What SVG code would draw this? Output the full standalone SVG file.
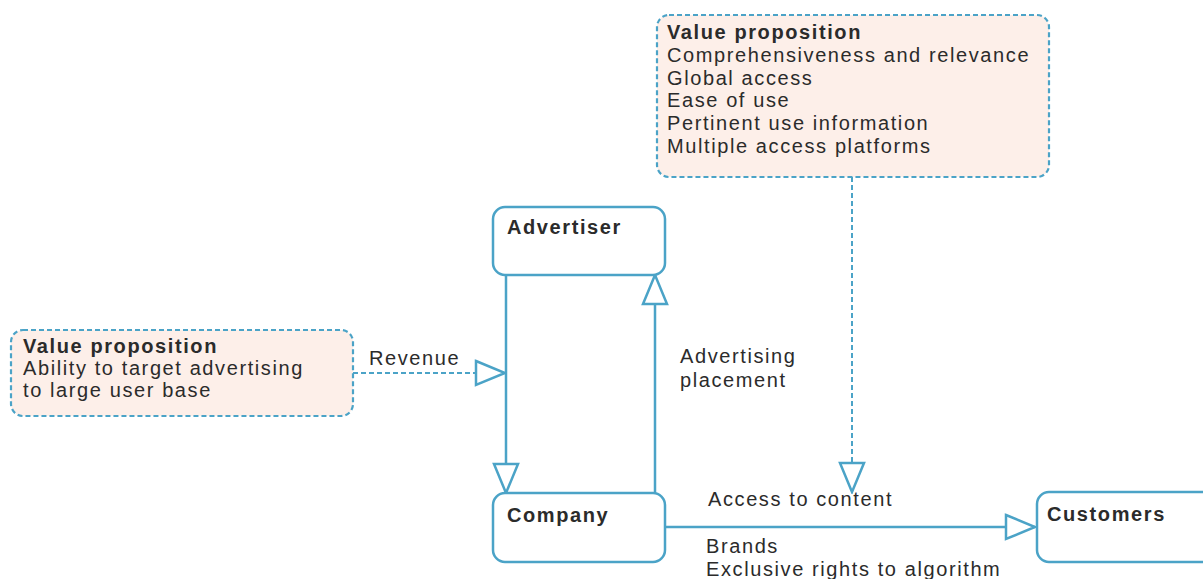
<svg xmlns="http://www.w3.org/2000/svg" width="1203" height="579" viewBox="0 0 1203 579">
  <style>
    .node { fill: #ffffff; stroke: #4ba3c7; stroke-width: 2.5; }
    .vp { fill: #fdefe9; stroke: #4ba3c7; stroke-width: 2.2; stroke-dasharray: 5 3; }
    .solid { fill: none; stroke: #4ba3c7; stroke-width: 2.5; }
    .dashed { fill: none; stroke: #4ba3c7; stroke-width: 2; stroke-dasharray: 5 3; }
    text { font-family: "Liberation Sans", Arial, sans-serif; font-size: 20px; letter-spacing: 1.6px; fill: #2b2b2b; }
    .b { font-weight: bold; }
  </style>
  <defs>
    <marker id="open" viewBox="0 0 33 28" refX="31" refY="14" markerWidth="33" markerHeight="28" markerUnits="userSpaceOnUse" orient="auto">
      <path d="M2,2 L31,14 L2,26 Z" fill="#ffffff" stroke="#4ba3c7" stroke-width="2.5" stroke-linejoin="miter"/>
    </marker>
  </defs>
  <rect width="1203" height="579" fill="#ffffff"/>

  <g id="connectors">
    <line class="dashed" x1="852" y1="177" x2="852" y2="492" marker-end="url(#open)"/>
    <line class="dashed" x1="353" y1="373" x2="505" y2="373" marker-end="url(#open)"/>
    <line class="solid" x1="506" y1="275" x2="506" y2="493" marker-end="url(#open)"/>
    <line class="solid" x1="655" y1="493" x2="655" y2="275" marker-end="url(#open)"/>
    <line class="solid" x1="665" y1="527" x2="1035" y2="527" marker-end="url(#open)"/>
    <text x="369" y="365">Revenue</text>
    <text x="680" y="363">Advertising</text>
    <text x="680" y="387">placement</text>
    <text x="708" y="506">Access to content</text>
    <text x="706" y="553">Brands</text>
    <text x="706" y="576">Exclusive rights to algorithm</text>
  </g>

  <g id="vp-top">
    <rect class="vp" x="657" y="15" width="392" height="162" rx="12"/>
    <text class="b" x="667" y="39">Value proposition</text>
    <text x="667" y="62">Comprehensiveness and relevance</text>
    <text x="667" y="85">Global access</text>
    <text x="667" y="107">Ease of use</text>
    <text x="667" y="130">Pertinent use information</text>
    <text x="667" y="153">Multiple access platforms</text>
  </g>

  <g id="vp-left">
    <rect class="vp" x="11" y="330" width="342" height="86" rx="12"/>
    <text class="b" x="23" y="353">Value proposition</text>
    <text x="23" y="375">Ability to target advertising</text>
    <text x="23" y="397">to large user base</text>
  </g>

  <g id="advertiser">
    <rect class="node" x="493" y="207" width="172" height="68" rx="12"/>
    <text class="b" x="507" y="234">Advertiser</text>
  </g>

  <g id="company">
    <rect class="node" x="493" y="493" width="172" height="69" rx="12"/>
    <text class="b" x="507" y="522">Company</text>
  </g>

  <g id="customers">
    <rect class="node" x="1037" y="492" width="180" height="70" rx="12"/>
    <text class="b" x="1047" y="521">Customers</text>
  </g>
</svg>
